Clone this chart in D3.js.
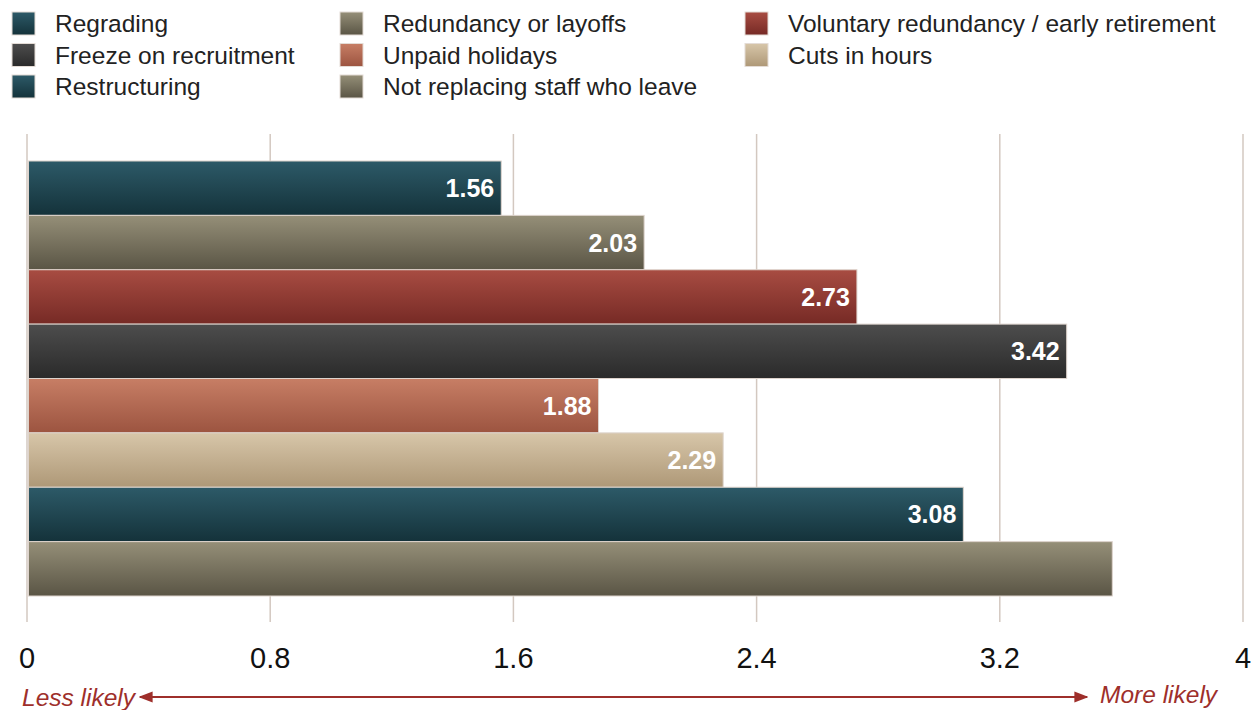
<!DOCTYPE html>
<html>
<head>
<meta charset="utf-8">
<script src="https://cdn.jsdelivr.net/npm/d3@7"></script>
<style>
  body { margin: 0; background: #fff; }
  svg { display: block; font-family: "Liberation Sans", Arial, Helvetica, sans-serif; }
</style>
</head>
<body>
<svg id="chart" width="1252" height="710"></svg>
<script>
// bar order, top to bottom
var categories = ["Regrading", "Redundancy or layoffs", "Voluntary redundancy / early retirement",
  "Freeze on recruitment", "Unpaid holidays", "Cuts in hours", "Restructuring", "Not replacing staff who leave"];
var values = [1.56, 2.03, 2.73, 3.42, 1.88, 2.29, 3.08, 3.57];
var showLabel = [true, true, true, true, true, true, true, false];
var ticks = [0, 0.8, 1.6, 2.4, 3.2, 4];
// [top, bottom] of each bar's gradient
var colours = [["#2d5a68", "#14323a"], ["#958f78", "#5a5545"], ["#a84c42", "#762a25"],
  ["#4d4d4d", "#2a2a2a"], ["#c77e65", "#9c5440"], ["#d7c6a9", "#ae9877"],
  ["#2d5a68", "#14323a"], ["#958f78", "#5a5545"]];

var svg = d3.select("#chart");
var defs = svg.append("defs");

colours.forEach(function(c, i){
	var g = defs.append("linearGradient").attr("id", "grad" + i)
		.attr("x1", 0).attr("y1", 0).attr("x2", 0).attr("y2", 1);
	g.append("stop").attr("offset", "0%").attr("stop-color", c[0]);
	g.append("stop").attr("offset", "100%").attr("stop-color", c[1]);
});

var x = d3.scaleLinear().domain([0, 4]).range([27, 1243]);
var y = d3.scaleBand().domain(categories).range([161, 596]).padding(0);

// gridlines
svg.append("g").selectAll("line").data(ticks).enter().append("line")
	.attr("x1", function(d){ return x(d); })
	.attr("x2", function(d){ return x(d); })
	.attr("y1", 134).attr("y2", 622)
	.attr("stroke", "#d3c8c0").attr("stroke-width", 1.5);

// bars
var bars = svg.append("g").selectAll("g").data(categories).enter().append("g");

bars.append("rect")
	.attr("x", x(0) + 1.5)
	.attr("y", function(d){ return y(d); })
	.attr("width", function(d, i){ return x(values[i]) - x(0) - 1.5; })
	.attr("height", y.bandwidth())
	.attr("fill", function(d, i){ return "url(#grad" + i + ")"; })
	.attr("stroke", "#ddd3cc").attr("stroke-width", 1);

bars.filter(function(d, i){ return showLabel[i]; }).append("text")
	.attr("x", function(d){ return x(values[categories.indexOf(d)]) - 7; })
	.attr("y", function(d){ return y(d) + y.bandwidth() / 2 + 9; })
	.attr("text-anchor", "end")
	.attr("fill", "#fff")
	.attr("font-weight", "bold")
	.attr("font-size", 25)
	.text(function(d){ return values[categories.indexOf(d)].toFixed(2); });

// tick labels
svg.append("g").selectAll("text").data(ticks).enter().append("text")
	.attr("x", function(d){ return x(d); })
	.attr("y", 668)
	.attr("text-anchor", "middle")
	.attr("font-size", 29)
	.attr("fill", "#111")
	.text(function(d){ return d3.format("")(d); });

// legend, 3 columns, row-major
var legendX = [12, 340, 745];
var legend = svg.append("g").selectAll("g").data(categories).enter().append("g")
	.attr("transform", function(d, i){
		return "translate(" + legendX[i % 3] + "," + (12 + Math.floor(i / 3) * 31.5) + ")";
	});
legend.append("rect").attr("width", 23).attr("height", 23)
	.attr("fill", function(d, i){ return "url(#grad" + i + ")"; })
	.attr("stroke", "#e4dcd6").attr("stroke-width", 1);
legend.append("text").attr("x", 43).attr("y", 20)
	.attr("font-size", 24.5).attr("fill", "#222")
	.text(function(d){ return d; });

// likelihood arrow
var red = "#9e2f2b";
defs.append("marker").attr("id", "head").attr("viewBox", "0 0 10 10")
	.attr("refX", 9).attr("refY", 5).attr("markerWidth", 7).attr("markerHeight", 7)
	.attr("orient", "auto-start-reverse")
	.append("path").attr("d", "M0,1 L10,5 L0,9 Z").attr("fill", red);
svg.append("line").attr("x1", 140).attr("x2", 1087).attr("y1", 697).attr("y2", 697)
	.attr("stroke", red).attr("stroke-width", 2)
	.attr("marker-start", "url(#head)").attr("marker-end", "url(#head)");
svg.append("text").attr("x", 22).attr("y", 706).attr("font-size", 24.5)
	.attr("font-style", "italic").attr("fill", red).text("Less likely");
svg.append("text").attr("x", 1100).attr("y", 703).attr("font-size", 24.5)
	.attr("font-style", "italic").attr("fill", red).text("More likely");
</script>
</body>
</html>
